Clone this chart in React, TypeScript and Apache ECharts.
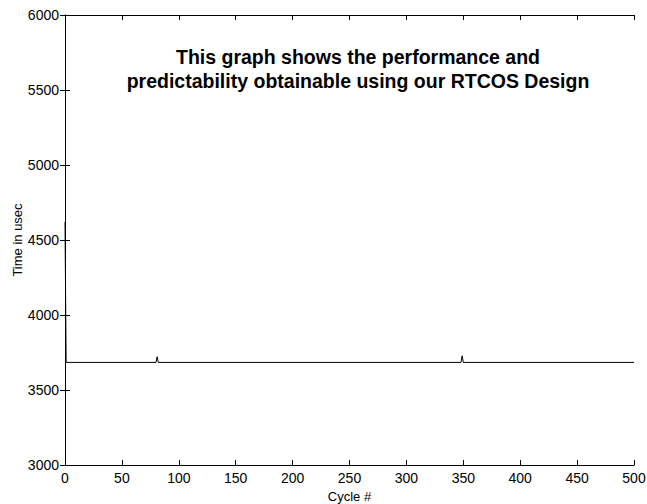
import React, { useEffect, useRef } from "react";
import * as echarts from "echarts";

const cycles = [0, 1, 80, 81, 82, 348, 349, 350, 500];
const times = [4620, 3684, 3684, 3722, 3684, 3684, 3728, 3684, 3684];
const xTicks = { min: 0, max: 500, interval: 50 };
const yTicks = { min: 3000, max: 6000, interval: 500 };
const xName = "Cycle #";
const yName = "Time in usec";
const titleLines = [
  "This graph shows the performance and",
  "predictability obtainable using our RTCOS Design",
];

const FONT = "Liberation Sans, Arial, Helvetica, sans-serif";

export default function App() {
  const ref = useRef<HTMLDivElement>(null);
  useEffect(() => {
    if (!ref.current) return;
    const chart = echarts.init(ref.current, undefined, { renderer: "svg" });
    const axisLine = { show: true, lineStyle: { color: "#000", width: 1 } };
    const axisTick = { show: true, inside: true, length: 5, lineStyle: { color: "#000", width: 1 } };
    const fmt = (v: number) => String(v);
    chart.setOption({
      animation: false,
      backgroundColor: "#fff",
      title: {
        text: titleLines.join("\n"),
        left: 353,
        top: 40,
        textAlign: "center",
        textStyle: {
          fontFamily: FONT,
          fontSize: 19.5,
          fontWeight: "bold",
          color: "#000",
          lineHeight: 24,
        },
      },
      graphic: [
        {
          type: "text",
          x: 17,
          y: 240,
          rotation: Math.PI / 2,
          style: {
            text: yName,
            fontFamily: FONT,
            fontSize: 13,
            fill: "#000",
            align: "center",
            verticalAlign: "middle",
          },
        },
      ],
      grid: {
        left: 65,
        right: 13,
        top: 15,
        bottom: 39,
        containLabel: false,
        outerBoundsMode: "none",
      },
      xAxis: [
        {
          type: "value",
          min: xTicks.min,
          max: xTicks.max,
          interval: xTicks.interval,
          name: xName,
          nameLocation: "middle",
          nameGap: 24,
          nameTextStyle: { fontFamily: FONT, fontSize: 13, color: "#000" },
          axisLine,
          axisTick,
          axisLabel: { fontFamily: FONT, fontSize: 14, color: "#000", margin: 6, formatter: fmt },
          splitLine: { show: false },
        },
        {
          type: "value",
          position: "top",
          min: xTicks.min,
          max: xTicks.max,
          interval: xTicks.interval,
          axisLine,
          axisTick,
          axisLabel: { show: false },
          splitLine: { show: false },
        },
      ],
      yAxis: [
        {
          type: "value",
          min: yTicks.min,
          max: yTicks.max,
          interval: yTicks.interval,
          axisLine,
          axisTick,
          axisLabel: { fontFamily: FONT, fontSize: 14, color: "#000", margin: 6, formatter: fmt },
          splitLine: { show: false },
        },
        {
          type: "value",
          position: "right",
          min: yTicks.min,
          max: yTicks.max,
          interval: yTicks.interval,
          axisLine,
          axisTick,
          axisLabel: { show: false },
          splitLine: { show: false },
        },
      ],
      series: [
        {
          type: "line",
          data: cycles.map((c, i) => [c, times[i]]),
          showSymbol: false,
          symbol: "none",
          lineStyle: { color: "#000", width: 1 },
          xAxisIndex: 0,
          yAxisIndex: 0,
        },
      ],
    });
    return () => chart.dispose();
  }, []);
  return (
    <div
      ref={ref}
      style={{ width: 647, height: 504, position: "absolute", left: 0, top: 0 }}
    />
  );
}
